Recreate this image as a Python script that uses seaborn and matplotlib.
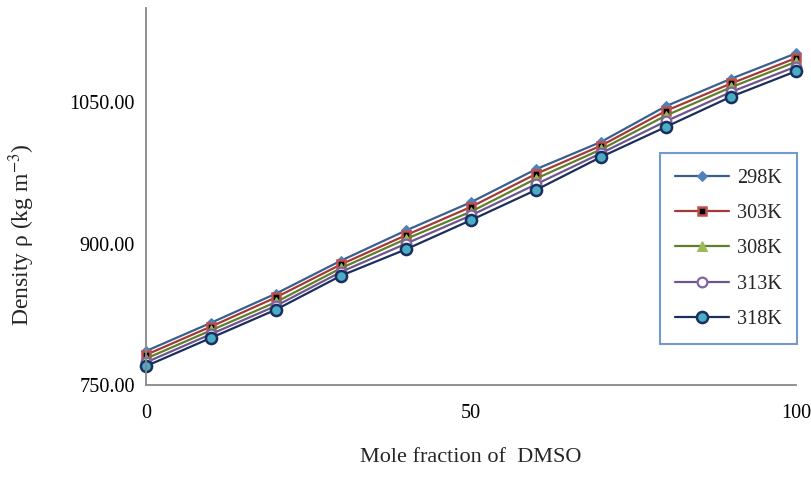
import matplotlib
matplotlib.use("Agg")
import matplotlib.pyplot as plt
import seaborn as sns
import pandas as pd
from matplotlib.ticker import FormatStrFormatter

mole_fraction = [0, 10, 20, 30, 40, 50, 60, 70, 80, 90, 100]
temps = ["298K", "303K", "308K", "313K", "318K"]
rho_298 = [786, 816, 847, 882, 914, 944, 979, 1008, 1046, 1075, 1102]
rho_303 = [782, 812, 843, 878, 909, 939, 974, 1004, 1041, 1070, 1097]
rho_308 = [778, 808, 838, 874, 905, 934, 969, 1000, 1036, 1066, 1093]
rho_313 = [774, 804, 834, 870, 900, 930, 963, 996, 1030, 1061, 1088]
rho_318 = [770, 800, 830, 866, 894, 925, 957, 992, 1024, 1056, 1083]
series = [rho_298, rho_303, rho_308, rho_313, rho_318]

sns.set_theme(style="white")
plt.rcParams["font.family"] = ["Liberation Serif", "DejaVu Serif"]
plt.rcParams["mathtext.fontset"] = "stix"

styles = [
    dict(color="#3A5F8F", marker="D", markersize=5.5, markerfacecolor="#4F81BD", markeredgecolor="#4F81BD"),
    dict(color="#A43A36", marker="s", markersize=6, markerfacecolor="black", markeredgecolor="#C0504D", markeredgewidth=1.8),
    dict(color="#5F7F2A", marker="^", markersize=7, markerfacecolor="#9BBB59", markeredgecolor="#9BBB59"),
    dict(color="#6F5590", marker="o", markersize=7, markerfacecolor="white", markeredgecolor="#8064A2", markeredgewidth=1.6),
    dict(color="#1B2F5E", marker="o", markersize=8, markerfacecolor="#4BACC6", markeredgecolor="#1B2F5E", markeredgewidth=1.8),
]

fig = plt.figure(figsize=(8.12, 4.78), dpi=100)
ax = fig.add_axes([0.1798, 0.1946, 0.8005, 0.7884])

for name, vals, st in zip(temps, series, styles):
    df = pd.DataFrame({"x": mole_fraction, "y": vals})
    sns.lineplot(data=df, x="x", y="y", ax=ax, label=name, linewidth=1.6, **st)

ax.set_xlim(0, 100)
ax.set_ylim(750, 1150)
ax.set_xticks([0, 50, 100])
ax.set_yticks([750, 900, 1050])
ax.yaxis.set_major_formatter(FormatStrFormatter("%.2f"))
for s in ["top", "right"]:
    ax.spines[s].set_visible(False)
for s in ["left", "bottom"]:
    ax.spines[s].set_color("#888888")
    ax.spines[s].set_linewidth(1.3)
ax.tick_params(axis="both", which="major", direction="out", length=5, width=1.2,
               color="#888888", labelsize=14.6, labelcolor="black")
ax.tick_params(axis="x", pad=9)
ax.tick_params(axis="y", pad=3)
ax.set_xlabel("Mole fraction of  DMSO", fontsize=16, labelpad=18)
ax.set_ylabel(r"Density ρ (kg m$^{-3}$)", fontsize=17)
ax.yaxis.set_label_coords(-0.168, 0.40)
for line in ax.lines:
    line.set_clip_on(False)

leg = ax.legend(loc="upper left", bbox_to_anchor=(0.791, 0.615), fontsize=14.6,
                frameon=True, fancybox=False, labelspacing=0.8, handlelength=2.65,
                handletextpad=0.4, borderpad=0.75, borderaxespad=0)
leg.get_frame().set_edgecolor("#4F81BD")
leg.get_frame().set_linewidth(1.5)

fig.savefig("out.png", dpi=100)
